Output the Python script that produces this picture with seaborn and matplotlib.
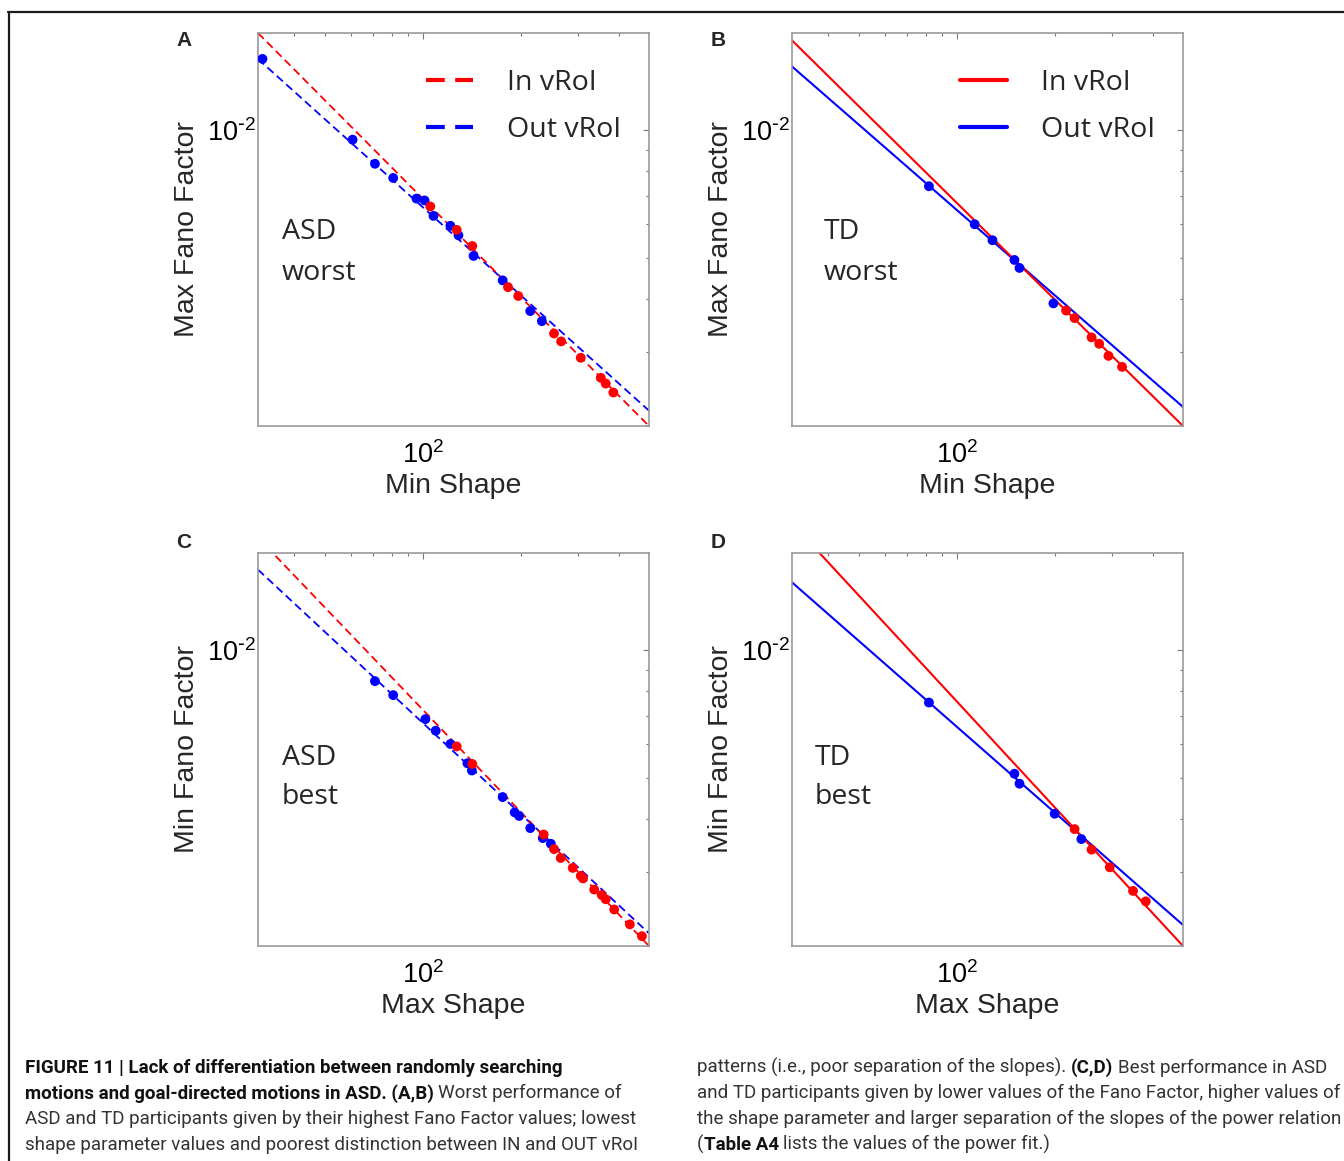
import numpy as np
import pandas as pd
import matplotlib
matplotlib.use("Agg")
import matplotlib.pyplot as plt
import seaborn as sns
from matplotlib.lines import Line2D
from matplotlib.ticker import NullFormatter, FuncFormatter

# ---------------- data ----------------
panels = ["A", "B", "C", "D"]
group_text = ["ASD\nworst", "TD\nworst", "ASD\nbest", "TD\nbest"]
x_labels = ["Min Shape", "Min Shape", "Max Shape", "Max Shape"]
y_labels = ["Max Fano Factor", "Max Fano Factor", "Min Fano Factor", "Min Fano Factor"]
legend_labels = ["In vRoI", "Out vRoI"]

A_in_x = [105.1, 126.7, 141.5, 182.3, 196.0, 252.5, 265.6, 305.2, 351.8, 364.3, 384.5]
A_in_y = [0.00661, 0.00582, 0.00533, 0.00426, 0.00406, 0.00331, 0.00317, 0.00290, 0.00260, 0.00252, 0.00240]
A_out_x = [32.0, 60.6, 71.0, 80.8, 95.3, 100.9, 107.5, 121.2, 128.3, 142.8, 175.5, 213.4, 231.7]
A_out_y = [0.01476, 0.00951, 0.00834, 0.00772, 0.00690, 0.00683, 0.00628, 0.00595, 0.00565, 0.00505, 0.00442, 0.00374, 0.00354]

B_in_x = [216.2, 229.6, 258.9, 273.3, 291.9, 321.4]
B_in_y = [0.00375, 0.00360, 0.00324, 0.00313, 0.00293, 0.00276]
B_out_x = [81.8, 113.1, 128.3, 149.9, 155.4, 197.6]
B_out_y = [0.00738, 0.00600, 0.00550, 0.00494, 0.00473, 0.00390]

C_in_x = [126.7, 141.5, 234.7, 252.5, 264.8, 288.3, 305.2, 310.1, 335.7, 354.1, 364.3, 386.9, 432.2, 470.8]
C_in_y = [0.00593, 0.00539, 0.00367, 0.00339, 0.00323, 0.00306, 0.00293, 0.00289, 0.00272, 0.00264, 0.00258, 0.00244, 0.00225, 0.00211]
C_out_x = [71.0, 80.8, 101.5, 109.2, 121.2, 136.7, 141.1, 175.5, 191.1, 197.2, 213.4, 233.2, 246.9]
C_out_y = [0.00846, 0.00784, 0.00688, 0.00646, 0.00601, 0.00541, 0.00520, 0.00450, 0.00414, 0.00406, 0.00380, 0.00360, 0.00349]

D_in_x = [229.6, 258.9, 294.6, 347.4, 380.2]
D_in_y = [0.00378, 0.00338, 0.00307, 0.00270, 0.00255]
D_out_x = [81.8, 149.9, 155.4, 199.4, 240.9]
D_out_y = [0.00753, 0.00511, 0.00484, 0.00411, 0.00358]

# power fits y = 10**log_a * x**b  (panels A..D)
fit_in_log_a = [-0.6177, -0.6567, -0.5360, -0.4600]
fit_in_b = [-0.7724, -0.7579, -0.8027, -0.8309]
fit_out_log_a = [-0.8004, -0.8507, -0.7431, -0.8347]
fit_out_b = [-0.6911, -0.6692, -0.7147, -0.6734]

XLIM = [31, 495]
YLIM = [0.002, 0.017]

caption_left = [
    "**FIGURE 11 | Lack of differentiation between randomly searching**",
    "**motions and goal-directed motions in ASD. (A,B)** Worst performance of",
    "ASD and TD participants given by their highest Fano Factor values; lowest",
    "shape parameter values and poorest distinction between IN and OUT vRoI",
]
caption_right = [
    "patterns (i.e., poor separation of the slopes). **(C,D)** Best performance in ASD",
    "and TD participants given by lower values of the Fano Factor, higher values of",
    "the shape parameter and larger separation of the slopes of the power relation",
    "(**Table A4** lists the values of the power fit.)",
]

points_x = {"A": (A_in_x, A_out_x), "B": (B_in_x, B_out_x), "C": (C_in_x, C_out_x), "D": (D_in_x, D_out_x)}
points_y = {"A": (A_in_y, A_out_y), "B": (B_in_y, B_out_y), "C": (C_in_y, C_out_y), "D": (D_in_y, D_out_y)}

# ---------------- style ----------------
sns.set_style("white")
plt.rcParams["font.family"] = ["Liberation Sans", "DejaVu Sans"]
plt.rcParams["mathtext.default"] = "regular"
plt.rcParams["axes.unicode_minus"] = False

W, H = 1344, 1161
fig = plt.figure(figsize=(W / 100, H / 100), dpi=100)
fig.patch.set_facecolor("white")

RED = "#ff0000"
BLUE = "#0000ff"
palette = {"In": RED, "Out": BLUE}

axes_px = {"A": (258, 33, 649, 426), "B": (792, 33, 1183, 426),
           "C": (258, 553, 649, 946), "D": (792, 553, 1183, 946)}
letter_px = {"A": (184, 41), "B": (718, 41), "C": (184, 542), "D": (718, 542)}
text_pos = {"A": (0.061, 0.477, 0.372), "B": (0.082, 0.477, 0.372),
            "C": (0.061, 0.461, 0.361), "D": (0.059, 0.461, 0.361)}
dashed = {"A": True, "B": False, "C": True, "D": False}

label_font = 20.5
ann_family = ["Open Sans", "DejaVu Sans"]


def pow10_label(v, pos):
    e = int(round(np.log10(v)))
    if e < 0:
        return r"$10^{\text{-}%d}$" % (-e)
    return r"$10^{%d}$" % e


for i, p in enumerate(panels):
    x0, y0, x1, y1 = axes_px[p]
    ax = fig.add_axes([x0 / W, 1 - y1 / H, (x1 - x0) / W, (y1 - y0) / H])
    ax.set_xscale("log")
    ax.set_yscale("log")

    # fit lines
    xs = np.array(XLIM, dtype=float)
    line_df = pd.concat([
        pd.DataFrame({"x": xs, "y": 10 ** fit_in_log_a[i] * xs ** fit_in_b[i], "g": "In"}),
        pd.DataFrame({"x": xs, "y": 10 ** fit_out_log_a[i] * xs ** fit_out_b[i], "g": "Out"}),
    ])
    ls = (0, (4.5, 2.5)) if dashed[p] else "-"
    lw = 1.3 if dashed[p] else 1.5
    for g in ["Out", "In"]:
        sns.lineplot(data=line_df[line_df.g == g], x="x", y="y", color=palette[g],
                     linewidth=lw, linestyle=ls, estimator=None, sort=False,
                     legend=False, ax=ax, zorder=2)

    # points
    px_in, px_out = points_x[p]
    py_in, py_out = points_y[p]
    pts = pd.concat([
        pd.DataFrame({"x": px_out, "y": py_out, "g": "Out"}),
        pd.DataFrame({"x": px_in, "y": py_in, "g": "In"}),
    ])
    sns.scatterplot(data=pts, x="x", y="y", hue="g", palette=palette, s=50,
                    edgecolor="none", legend=False, ax=ax, zorder=3)

    ax.set_xlim(XLIM)
    ax.set_ylim(YLIM)
    ax.xaxis.set_major_formatter(FuncFormatter(pow10_label))
    ax.yaxis.set_major_formatter(FuncFormatter(pow10_label))
    ax.xaxis.set_minor_formatter(NullFormatter())
    ax.yaxis.set_minor_formatter(NullFormatter())
    ax.tick_params(which="both", direction="in", top=True, right=True,
                   color="#777777", width=0.8, labelcolor="black")
    ax.tick_params(which="major", length=4, labelsize=19.5)
    ax.tick_params(which="minor", length=2.3)
    ax.tick_params(axis="x", which="major", pad=11)
    ax.tick_params(axis="y", which="major", pad=1.5)
    for s in ax.spines.values():
        s.set_color("#9a9a9a")
        s.set_linewidth(1.2)
    ax.set_xlabel(x_labels[i], fontsize=label_font, labelpad=3)
    ax.set_ylabel(y_labels[i], fontsize=label_font, labelpad=5)

    tx, ty1, ty2 = text_pos[p]
    first, second = group_text[i].split("\n")
    ax.text(tx, ty1, first, transform=ax.transAxes, fontsize=20.5, family=ann_family,
            va="baseline", ha="left")
    ax.text(tx, ty2, second, transform=ax.transAxes, fontsize=20.5, family=ann_family,
            va="baseline", ha="left")

    lx, ly = letter_px[p]
    fig.text(lx / W, 1 - ly / H, p, fontsize=15, fontweight="bold", ha="center", va="center")

    if p in ("A", "B"):
        handles = [Line2D([], [], color=RED, lw=3, linestyle=ls),
                   Line2D([], [], color=BLUE, lw=3, linestyle=ls)]
        lx0 = x0 + (426 - 258)
        ax.legend(handles, legend_labels, loc="upper left",
                  bbox_to_anchor=(lx0 / W, 1 - 69 / H), bbox_transform=fig.transFigure,
                  frameon=False, borderpad=0, borderaxespad=0, handlelength=1.65,
                  handletextpad=1.2, labelspacing=0.68,
                  prop={"family": ann_family, "size": 20.5})

# ---------------- frame lines ----------------
fig.add_artist(Line2D([8 / W, 1], [1 - 12 / H, 1 - 12 / H], transform=fig.transFigure,
                      color="#1a1a1a", lw=1.6))
fig.add_artist(Line2D([9 / W, 9 / W], [0, 1 - 12 / H], transform=fig.transFigure,
                      color="#1a1a1a", lw=1.6))

# ---------------- caption ----------------
renderer = fig.canvas.get_renderer()
cap_family = ["Roboto", "Liberation Sans", "DejaVu Sans"]
NORMAL_W = "normal"


def measure(s, weight, fs):
    t = fig.text(0, 0, s, fontsize=fs, family=cap_family, fontweight=weight)
    w = t.get_window_extent(renderer).width
    t.remove()
    return w


fs = 12.0
fs = fs * 610.0 / measure(caption_left[2], NORMAL_W, fs)
space_w = measure("n n", NORMAL_W, fs) - measure("nn", NORMAL_W, fs)


def draw_line(xs0, ybase, s):
    x = xs0
    parts = s.split("**")
    for k, part in enumerate(parts):
        if not part:
            continue
        bold = (k % 2 == 1)
        weight = "bold" if bold else NORMAL_W
        color = "#111111" if bold else "#333333"
        if part.startswith(" "):
            x += space_w
        txt = part.strip()
        fig.text(x / W, 1 - ybase / H, txt, fontsize=fs, family=cap_family,
                 fontweight=weight, color=color, ha="left", va="baseline")
        x += measure(txt, weight, fs)
        if part.endswith(" "):
            x += space_w


baselines = [1073, 1098.5, 1124, 1149.5]
for ln, yb in zip(caption_left, baselines):
    draw_line(25, yb, ln)
for ln, yb in zip(caption_right, baselines):
    draw_line(697, yb, ln)

fig.savefig("out.png", dpi=100, facecolor="white")
